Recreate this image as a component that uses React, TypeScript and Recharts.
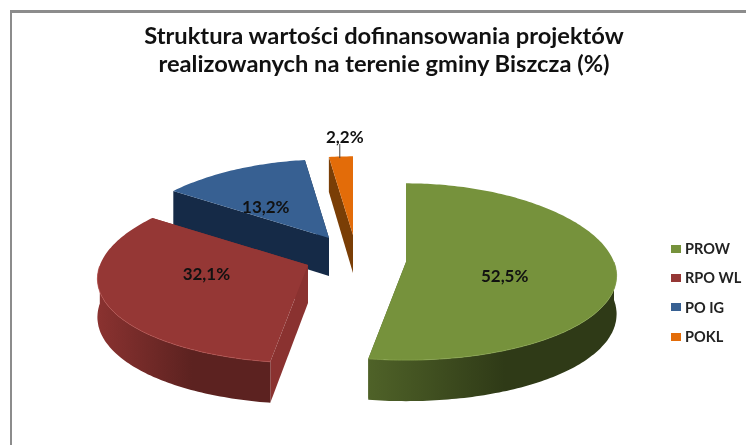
import React from 'react';
import { PieChart, Pie, Legend } from 'recharts';

const categories = ['PROW', 'RPO WL', 'PO IG', 'POKL'];
const shares = [52.5, 32.1, 13.2, 2.2];
const titleLines = [
  'Struktura wartości dofinansowania projektów',
  'realizowanych na terenie gminy Biszcza (%)',
];

// look of each slice, same order as categories
const topColors = ['#76923c', '#953735', '#376092', '#e36c09'];
const rimColors = ['#8aa64e', '#b5514f', '#4a76aa', '#f08a30'];
const wallLight = ['#4f6228', '#8a3230', '#152a47', '#7a3e06'];
const wallDark = ['#2f3a17', '#5c2220', '#122a49', '#5f3005'];
const explode = [
  { dx: 0, dy: 0 },
  { dx: -98, dy: 3 },
  { dx: -77, dy: -24 },
  { dx: -53, dy: -27 },
];
const labelSpots = [
  { frac: 0.47, dx: 0, dy: 10 },
  { frac: 0.5, dx: 0, dy: -10 },
  { frac: 0.5, dx: -16, dy: 3 },
  { frac: 1.26, dx: 7, dy: 0 },
];

// slices run counter-clockwise so the overlap comes out right (red in front of blue)
const table = categories
  .map((name, i) => ({ name, value: shares[i], idx: i }))
  .reverse();

const SQUASH = 0.425;
const DEPTH = 38;
const RAD = Math.PI / 180;

const project = (ax: number, ay: number, r: number, angle: number) => {
  const u = Math.cos(angle * RAD);
  const v = -Math.sin(angle * RAD);
  return {
    x: ax + r * u * (1 + 0.16 * v),
    y: ay + r * SQUASH * v * (1 + 0.11 * v),
    v,
  };
};

const wallDepth = (v: number) => DEPTH * (1 + 0.08 * v);
const pt = (x: number, y: number) => `${x.toFixed(1)},${y.toFixed(1)}`;

const Slice3D = (props: any) => {
  const { cx, cy, outerRadius, startAngle, endAngle, payload } = props;
  const i = payload.idx;
  const ax = cx + explode[i].dx;
  const ay = cy + explode[i].dy;
  const from = Math.min(startAngle, endAngle);
  const to = Math.max(startAngle, endAngle);

  const rim: { x: number; y: number; v: number }[] = [];
  for (let a = from; a < to; a += 1) rim.push(project(ax, ay, outerRadius, a));
  rim.push(project(ax, ay, outerRadius, to));

  const first = rim[0];
  const last = rim[rim.length - 1];
  const top = `M${pt(ax, ay)} L${rim.map((p) => pt(p.x, p.y)).join(' L')} Z`;

  const cut = (p: { x: number; y: number; v: number }) =>
    `M${pt(ax, ay)} L${pt(p.x, p.y)} L${pt(p.x, p.y + wallDepth(p.v))} L${pt(ax, ay + DEPTH)} Z`;

  const front = rim.filter((p) => p.v >= 0);
  let outer = '';
  let rimLine = '';
  if (front.length > 1) {
    const lower = [...front].reverse().map((p) => pt(p.x, p.y + wallDepth(p.v)));
    rimLine = `M${front.map((p) => pt(p.x, p.y)).join(' L')}`;
    outer = `${rimLine} L${lower.join(' L')} Z`;
  }
  const gradId = `wall-${i}`;

  return (
    <g>
      <defs>
        <linearGradient id={gradId} x1="0" y1="0" x2="1" y2="0">
          <stop offset="0%" stopColor={wallLight[i]} />
          <stop offset="55%" stopColor={wallDark[i]} />
          <stop offset="100%" stopColor={wallDark[i]} />
        </linearGradient>
      </defs>
      <path d={cut(first)} fill={wallLight[i]} />
      <path d={cut(last)} fill={wallLight[i]} />
      {outer && <path d={outer} fill={`url(#${gradId})`} />}
      <path d={top} fill={topColors[i]} />
      {rimLine && <path d={rimLine} fill="none" stroke={rimColors[i]} strokeWidth={1} opacity={0.7} />}
    </g>
  );
};

const fmt = (v: number) => `${v.toFixed(1).replace('.', ',')}%`;

const SliceLabel = (props: any) => {
  const { cx, cy, outerRadius, midAngle, payload } = props;
  const i = payload.idx;
  const ax = cx + explode[i].dx;
  const ay = cy + explode[i].dy;
  const spot = labelSpots[i];
  const p = project(0, 0, outerRadius, midAngle);
  const x = ax + p.x * spot.frac + spot.dx;
  const y = ay + p.y * spot.frac + spot.dy;
  return (
    <g>
      {spot.frac > 1 && <line x1={x - 5} y1={y + 8} x2={x - 5} y2={y + 22} stroke="#404040" strokeWidth={1} />}
      <text
        x={x}
        y={y}
        textAnchor="middle"
        dominantBaseline="central"
        fontFamily="Lato"
        fontWeight={700}
        fontSize={17}
        fill="#111"
      >
        {fmt(payload.value)}
      </text>
    </g>
  );
};

const LegendList = () => (
  <div style={{ fontFamily: 'Lato', fontWeight: 700, fontSize: 14.5, color: '#222' }}>
    {categories.map((name, i) => (
      <div key={name} style={{ display: 'flex', alignItems: 'center', height: 29.3 }}>
        <span style={{ width: 10, height: 8, background: topColors[i], marginRight: 4 }} />
        {name}
      </div>
    ))}
  </div>
);

export default function App() {
  return (
    <div style={{ position: 'fixed', left: 0, top: 0, width: 746, height: 445, background: '#fff', overflow: 'hidden' }}>
      <div
        style={{
          position: 'absolute',
          left: 10,
          top: 10,
          right: -4,
          bottom: -4,
          borderTop: '3px solid #8c8c8c',
          borderLeft: '2px solid #8c8c8c',
        }}
      />
      <div style={{ position: 'absolute', left: 0, top: 0, filter: 'blur(0.5px)' }}>
        <PieChart width={746} height={445} margin={{ top: 0, right: 0, bottom: 0, left: 0 }}>
          <text textAnchor="middle" fontFamily="Lato" fontWeight={700} fontSize={23.7} fill="#111">
            <tspan x={384} y={44}>{titleLines[0]}</tspan>
            <tspan x={384} y={72}>{titleLines[1]}</tspan>
          </text>
          <Pie
            data={table}
            dataKey="value"
            nameKey="name"
            cx={406}
            cy={262}
            outerRadius={208}
            startAngle={90}
            endAngle={450}
            stroke="none"
            labelLine={false}
            label={SliceLabel}
            shape={Slice3D}
            isAnimationActive={false}
          />
          <Legend
            content={LegendList}
            layout="vertical"
            align="right"
            verticalAlign="top"
            wrapperStyle={{ position: 'absolute', left: 671, top: 234, width: 75 }}
          />
        </PieChart>
      </div>
    </div>
  );
}
